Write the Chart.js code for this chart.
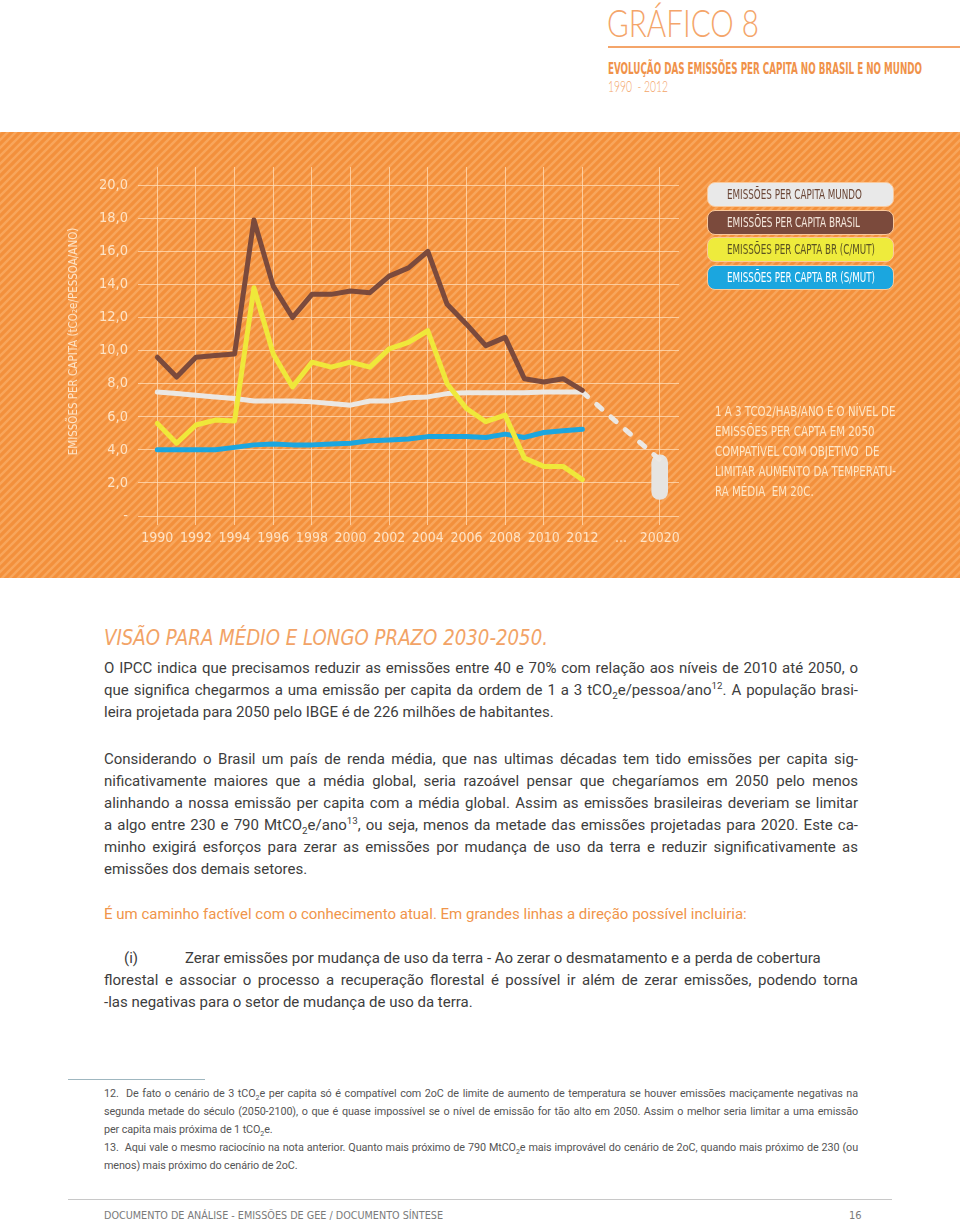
<!DOCTYPE html>
<html lang="pt">
<head>
<meta charset="utf-8">
<title>Gráfico 8</title>
<script src="https://cdn.jsdelivr.net/npm/chart.js@4.4.1/dist/chart.umd.min.js"></script>
<style>
  body { margin: 0; background: #fff; }
  #page { position: relative; width: 960px; height: 1221px; overflow: hidden; font-family: Roboto, sans-serif; }
  .abs { position: absolute; white-space: nowrap; }
  .narrow { font-family: 'DejaVu Sans Condensed', sans-serif; }
  .fit { display: inline-block; white-space: nowrap; transform-origin: left top; }
  #titulo { left: 607px; top: 2px; font-family: Lato, Roboto, sans-serif; font-weight: 300; font-size: 38px; color: #f4a56a; line-height: 40px; }
  #regua { left: 608px; top: 46px; width: 352px; height: 2px; background: #f4a56a; }
  #subtitulo { left: 608px; top: 59px; font-size: 16px; font-weight: bold; color: #f0924a; line-height: 19px; }
  #anos { left: 608px; top: 77px; font-family: Lato, Roboto, sans-serif; font-weight: 300; font-size: 15px; color: #f3a468; line-height: 18px; }
  #painel { position: absolute; left: 0; top: 132px; width: 960px; height: 446px; }
  #legenda { position: absolute; left: 707px; top: 182px; }
  .pill { box-sizing: border-box; width: 187px; height: 25px; margin-bottom: 2.5px; border-radius: 8px; border: 1px solid #fbc99a;
          padding-left: 19px; font-size: 13.5px; line-height: 23px; overflow: hidden; }
  #nota { left: 715px; top: 401px; font-size: 14px; line-height: 20px; color: #fde6c8; }
  .bloco { position: absolute; left: 104px; width: 754px; color: #3d3d3d; font-size: 15px; line-height: 22px; }
  .bloco div { text-align: justify; text-align-last: justify; white-space: nowrap; }
  .bloco div.fim { text-align-last: left; }
  sub, sup { font-size: 65%; line-height: 0; }
  #visao { left: 104px; top: 625px; font-size: 22px; font-style: italic; color: #f2a366; line-height: 26px; }
  #notas { font-size: 10.8px; letter-spacing: -0.1px; line-height: 18px; color: #555; }
  #rodape { left: 104px; top: 1208px; font-size: 11px; color: #7a7a7a; line-height: 15px; }
  #pagina { left: 849px; top: 1208px; font-size: 11px; color: #7a7a7a; line-height: 15px; }
</style>
</head>
<body>
<div id="page">
  <div id="titulo" class="abs fit">GRÁFICO 8</div>
  <div id="regua" class="abs"></div>
  <div id="subtitulo" class="abs narrow fit">EVOLUÇÃO DAS EMISSÕES PER CAPITA NO BRASIL E NO MUNDO</div>
  <div id="anos" class="abs fit">1990&nbsp; - 2012</div>

  <div id="painel"><canvas id="grafico" width="960" height="446"></canvas></div>
  <div id="legenda" class="narrow"></div>
  <div id="nota" class="abs narrow fit"><div>1 A 3 TCO2/HAB/ANO É O NÍVEL DE</div><div>EMISSÕES PER CAPTA EM 2050</div><div>COMPATÍVEL COM OBJETIVO&nbsp; DE</div><div>LIMITAR AUMENTO DA TEMPERATU-</div><div>RA MÉDIA&nbsp; EM 20C.</div></div>

  <div id="visao" class="abs narrow fit">VISÃO PARA MÉDIO E LONGO PRAZO 2030-2050.</div>

  <div class="bloco" style="top:657px">
    <div>O IPCC indica que precisamos reduzir as emissões entre 40 e 70% com relação aos níveis de 2010 até 2050, o</div>
    <div>que significa chegarmos a uma emissão per capita da ordem de 1 a 3 tCO<sub>2</sub>e/pessoa/ano<sup>12</sup>. A população brasi-</div>
    <div class="fim">leira projetada para 2050 pelo IBGE é de 226 milhões de habitantes.</div>
  </div>

  <div class="bloco" style="top:748px">
    <div>Considerando o Brasil um país de renda média, que nas ultimas décadas tem tido emissões per capita sig-</div>
    <div>nificativamente maiores que a média global, seria razoável pensar que chegaríamos em 2050 pelo menos</div>
    <div>alinhando a nossa emissão per capita com a média global. Assim as emissões brasileiras deveriam se limitar</div>
    <div>a algo entre 230 e 790 MtCO<sub>2</sub>e/ano<sup>13</sup>, ou seja, menos da metade das emissões projetadas para 2020. Este ca-</div>
    <div>minho exigirá esforços para zerar as emissões por mudança de uso da terra e reduzir significativamente as</div>
    <div class="fim">emissões dos demais setores.</div>
  </div>

  <div class="bloco" style="top:903px; color:#f0954a">
    <div class="fim">É um caminho factível com o conhecimento atual. Em grandes linhas a direção possível incluiria:</div>
  </div>

  <div class="bloco" style="top:947px">
    <div style="text-align-last:left"><span style="display:inline-block;width:81px;padding-left:20px;box-sizing:border-box;text-align:left">(i)</span>Zerar emissões por mudança de uso da terra - Ao zerar o desmatamento e a perda de cobertura</div>
    <div>florestal e associar o processo a recuperação florestal é possível ir além de zerar emissões, podendo torna</div>
    <div class="fim">-las negativas para o setor de mudança de uso da terra.</div>
  </div>

  <div class="abs" style="left:68px; top:1079px; width:137px; height:1px; background:#9fb7c0"></div>
  <div id="notas" class="bloco" style="top:1085px">
    <div>12.&nbsp; De fato o cenário de 3 tCO<sub>2</sub>e per capita só é compatível com 2oC de limite de aumento de temperatura se houver emissões maciçamente negativas na</div>
    <div>segunda metade do século (2050-2100), o que é quase impossível se o nível de emissão for tão alto em 2050. Assim o melhor seria limitar a uma emissão</div>
    <div class="fim">per capita mais próxima de 1 tCO<sub>2</sub>e.</div>
    <div>13.&nbsp; Aqui vale o mesmo raciocínio na nota anterior. Quanto mais próximo de 790 MtCO<sub>2</sub>e mais improvável do cenário de 2oC, quando mais próximo de 230 (ou</div>
    <div class="fim">menos) mais próximo do cenário de 2oC.</div>
  </div>

  <div class="abs" style="left:68px; top:1199px; width:824px; height:1px; background:#c8c8c8"></div>
  <div id="rodape" class="abs narrow fit">DOCUMENTO DE ANÁLISE - EMISSÕES DE GEE / DOCUMENTO SÍNTESE</div>
  <div id="pagina" class="abs narrow">16</div>
</div>

<script>
/*
* Data
*/

// one slot per year, plus the empty slots at both ends and the gap before 2020
var categories = ['', '1990', '1991', '1992', '1993', '1994', '1995', '1996', '1997', '1998', '1999', '2000',
  '2001', '2002', '2003', '2004', '2005', '2006', '2007', '2008', '2009', '2010', '2011', '2012',
  '', '...', '', '20020', ''];

var xTickLabels = ['', '1990', '', '1992', '', '1994', '', '1996', '', '1998', '', '2000',
  '', '2002', '', '2004', '', '2006', '', '2008', '', '2010', '', '2012',
  '', '...', '', '20020', ''];

// 1990 - 2012
var mundo = [7.5, 7.4, 7.3, 7.2, 7.1, 6.95, 6.95, 6.95, 6.9, 6.8, 6.7, 6.95,
  6.95, 7.15, 7.2, 7.4, 7.45, 7.45, 7.45, 7.45, 7.5, 7.5, 7.5];
var brasil = [9.6, 8.4, 9.6, 9.7, 9.8, 17.9, 13.9, 12.0, 13.4, 13.4, 13.6, 13.5,
  14.5, 15.0, 16.0, 12.8, 11.6, 10.3, 10.8, 8.3, 8.1, 8.3, 7.6];
var brComMut = [5.6, 4.4, 5.5, 5.8, 5.75, 13.8, 9.8, 7.8, 9.3, 9.0, 9.3, 9.0,
  10.1, 10.5, 11.2, 8.0, 6.5, 5.7, 6.1, 3.5, 3.0, 3.0, 2.2];
var brSemMut = [4.0, 4.0, 4.0, 4.0, 4.15, 4.3, 4.35, 4.3, 4.3, 4.35, 4.4, 4.55,
  4.6, 4.65, 4.8, 4.8, 4.8, 4.75, 4.95, 4.75, 5.05, 5.15, 5.25];

// dashed path 2012 -> 2020 and the 2050 target range (tCO2e/hab/ano)
var projecao = [7.5, 3.4];
var meta2050 = [1.0, 3.7];

var yTicks = [0, 2, 4, 6, 8, 10, 12, 14, 16, 18, 20];

var cores = {
  mundo: '#ebe8e4',
  brasil: '#7b4a3c',
  comMut: '#efe83a',
  semMut: '#1ba6df',
  grade: 'rgba(255, 221, 186, 0.75)',
  texto: '#fde3c6'
};

/*
* Helpers
*/

function anos(values) {
  // put the 1990-2012 values in their category slots
  return [null].concat(values, [null, null, null, null, null]);
}

function slot(label, value) {
  var row = categories.map(function() { return null; });
  row[categories.indexOf(label)] = value;
  return row;
}

var rowProjecao = slot('2012', projecao[0]);
rowProjecao[categories.indexOf('20020')] = projecao[1];

var hatch = (function() {
  var c = document.createElement('canvas');
  c.width = 8; c.height = 8;
  var g = c.getContext('2d');
  g.fillStyle = '#f3903c';
  g.fillRect(0, 0, 8, 8);
  g.strokeStyle = '#f8a65c';
  g.lineWidth = 2.4;
  g.beginPath();
  g.moveTo(0, 8); g.lineTo(8, 0);
  g.moveTo(-4, 4); g.lineTo(4, -4);
  g.moveTo(4, 12); g.lineTo(12, 4);
  g.stroke();
  return c;
})();

var fundo = {
  id: 'fundo',
  beforeDraw: function(chart) {
    var ctx = chart.ctx;
    ctx.save();
    ctx.fillStyle = ctx.createPattern(hatch, 'repeat');
    ctx.fillRect(0, 0, chart.width, chart.height);
    ctx.restore();
  }
};

function linha(label, values, color, order) {
  return {
    label: label,
    data: anos(values),
    borderColor: color,
    backgroundColor: color,
    borderWidth: 5,
    pointRadius: 0,
    tension: 0,
    borderJoinStyle: 'round',
    borderCapStyle: 'round',
    order: order
  };
}

// squeeze a text box to the width it has in the print layout
function fit(el, width) {
  var w = el.getBoundingClientRect().width;
  el.style.transform = 'scaleX(' + (width / w) + ')';
}

var font = "'DejaVu Sans Condensed', sans-serif";

/*
* Chart
*/

var series = [
  linha('EMISSÕES PER CAPITA MUNDO', mundo, cores.mundo, 2),
  linha('EMISSÕES PER CAPITA BRASIL', brasil, cores.brasil, 1),
  linha('EMISSÕES PER CAPTA BR (C/MUT)', brComMut, cores.comMut, 0),
  linha('EMISSÕES PER CAPTA BR (S/MUT)', brSemMut, cores.semMut, 4)
];

var legendaFundo = ['#e9e9e9', cores.brasil, '#eeeb3c', cores.semMut];
var legendaTexto = ['#6a4636', '#f4e7dc', '#5b5322', '#ffffff'];
var legendaLargura = [135, 133, 148, 148];

var ctx = document.getElementById('grafico').getContext('2d');
var chart = new Chart(ctx, {
  type: 'line',
  data: {
    labels: categories,
    datasets: series.concat([
      {
        label: 'projeção',
        data: rowProjecao,
        spanGaps: true,
        borderColor: cores.mundo,
        borderWidth: 5,
        borderDash: [7, 12],
        borderCapStyle: 'round',
        pointRadius: 0,
        order: 3
      },
      {
        type: 'bar',
        label: 'meta 2050',
        data: slot('20020', meta2050),
        backgroundColor: '#e6e4e1',
        barThickness: 16,
        borderRadius: 8,
        borderSkipped: false,
        order: 5
      }
    ])
  },
  options: {
    responsive: false,
    animation: false,
    layout: { padding: { left: 60, right: 281, top: 35, bottom: 22 } },
    plugins: { legend: { display: false }, tooltip: { enabled: false } },
    scales: {
      x: {
        offset: false,
        afterFit: function(scale) { scale.height = 40; },
        border: { display: false },
        grid: {
          offset: false,
          tickLength: 9,
          color: function(c) {
            var t = xTickLabels[c.index];
            return t && t !== '...' ? cores.grade : 'rgba(0,0,0,0)';
          }
        },
        ticks: {
          autoSkip: false,
          maxRotation: 0,
          minRotation: 0,
          padding: 5,
          color: cores.texto,
          font: { family: font, size: 14 },
          callback: function(value, index) { return xTickLabels[index]; }
        }
      },
      y: {
        min: 0,
        max: 21.1,
        afterFit: function(scale) { scale.width = 78; },
        afterBuildTicks: function(scale) {
          scale.ticks = yTicks.map(function(v) { return { value: v }; });
        },
        border: { display: false },
        grid: { color: cores.grade, drawTicks: false },
        ticks: {
          padding: 10,
          color: cores.texto,
          font: { family: font, size: 14.5 },
          callback: function(value) { return value === 0 ? '-' : value.toFixed(1).replace('.', ','); }
        },
        title: {
          display: true,
          text: 'EMISSÕES PER CAPITA (tCO₂e/PESSOA/ANO)',
          color: cores.texto,
          font: { family: font, size: 11.5 },
          padding: { top: 7, bottom: 0 }
        }
      }
    }
  },
  plugins: [fundo]
});

/*
* Legend and print texts
*/

var legenda = document.getElementById('legenda');
series.forEach(function(ds, i) {
  var item = document.createElement('div');
  item.className = 'pill';
  item.style.background = legendaFundo[i];
  item.style.color = legendaTexto[i];
  var txt = document.createElement('span');
  txt.className = 'fit';
  txt.textContent = ds.label;
  item.appendChild(txt);
  legenda.appendChild(item);
  fit(txt, legendaLargura[i]);
});

fit(document.getElementById('titulo'), 152);
fit(document.getElementById('subtitulo'), 314);
fit(document.getElementById('anos'), 60);
fit(document.getElementById('nota'), 181);
fit(document.getElementById('visao'), 444);
fit(document.getElementById('rodape'), 339);
</script>
</body>
</html>
